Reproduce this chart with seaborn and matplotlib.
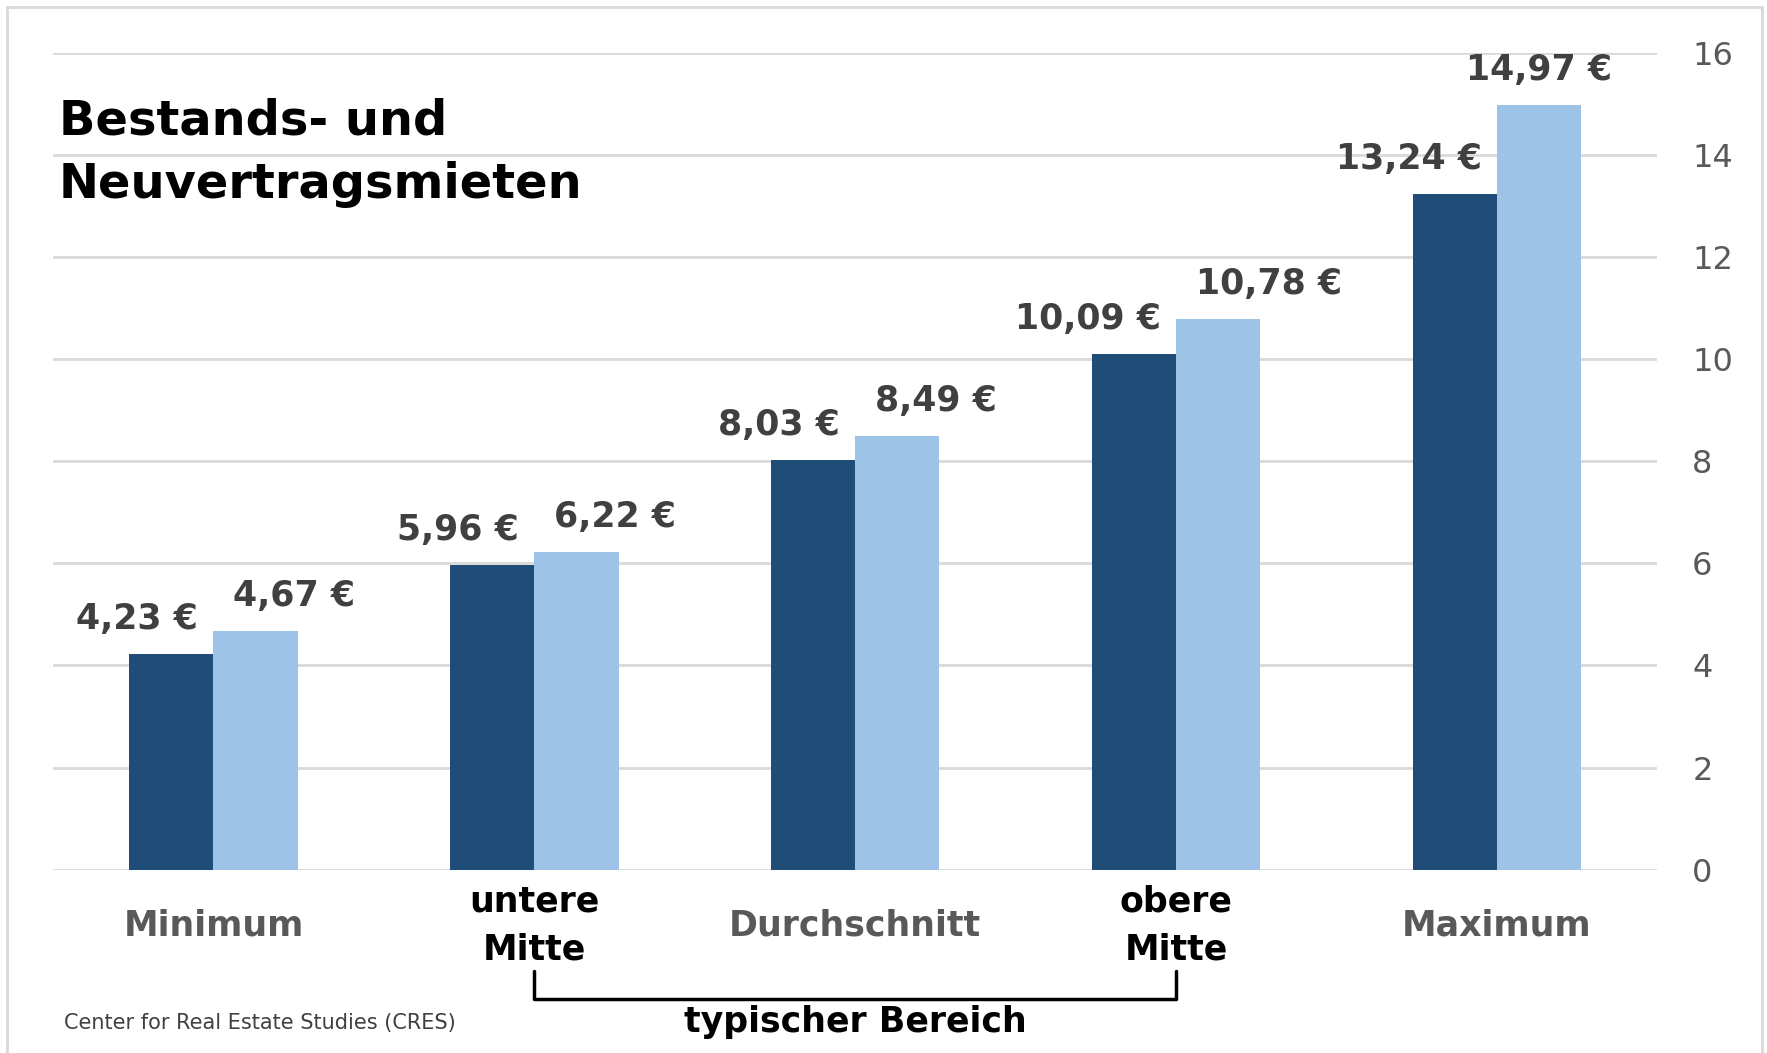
import matplotlib.pyplot as plt
import matplotlib.patches as mpatches
import seaborn as sns
import pandas as pd


# DATA
categories = ["Minimum", "untere\nMitte", "Durchschnitt", "obere\nMitte", "Maximum"]
series_names = ["Bestandsmieten", "Neuvertragsmieten"]
bestand = [4.23, 5.96, 8.03, 10.09, 13.24]
neuvertrag = [4.67, 6.22, 8.49, 10.78, 14.97]
y_ticks = [0, 2, 4, 6, 8, 10, 12, 14, 16]

title = "Bestands- und\nNeuvertragsmieten"
bracket_label = "typischer Bereich"
source = "Center for Real Estate Studies (CRES)"

df = pd.DataFrame({
    "Kategorie": categories * 2,
    "Art": [series_names[0]] * len(categories) + [series_names[1]] * len(categories),
    "Miete": bestand + neuvertrag,
})


# STYLE
sns.set_theme(style="white")
plt.rcParams["font.family"] = ["DejaVu Sans"]

DARK = "#1f4d78"
LIGHT = "#9dc3e6"
GRID = "#d9d9d9"
GREY_TXT = "#595959"
VAL_TXT = "#404040"


# FIGURE
fig = plt.figure(figsize=(17.67, 10.53), dpi=100)
ax = fig.add_axes([0.030, 0.174, 0.908, 0.776])

sns.barplot(data=df, x="Kategorie", y="Miete", hue="Art", order=categories,
            palette=[DARK, LIGHT], saturation=1, width=0.525, gap=0,
            errorbar=None, legend=False, linewidth=0, ax=ax)

ax.set_xlim(-0.5, len(categories) - 0.5)
ax.set_ylim(y_ticks[0], y_ticks[-1])
ax.set_yticks(y_ticks)
ax.yaxis.tick_right()
ax.set_xlabel("")
ax.set_ylabel("")
for s in ax.spines.values():
    s.set_visible(False)
ax.grid(axis="y", color=GRID, linewidth=2)
ax.set_axisbelow(True)

ax.tick_params(axis="y", length=0, pad=25, labelsize=23, labelcolor=GREY_TXT)
ax.tick_params(axis="x", length=0, pad=40, labelsize=25)
label_colors = [GREY_TXT, "black", GREY_TXT, "black", GREY_TXT]
for lbl, c in zip(ax.get_xticklabels(), label_colors):
    lbl.set_color(c)
    lbl.set_fontweight("bold")
    lbl.set_va("center")
    lbl.set_linespacing(1.5)


# VALUE LABELS
top_val = max(neuvertrag)
for k, cont in enumerate(ax.containers):
    for bar in cont:
        h = bar.get_height()
        txt = f"{h:.2f} €".replace(".", ",")
        if k == 0:
            x, ha, dx = bar.get_x() + bar.get_width(), "right", -11
        elif h == top_val:
            x, ha, dx = bar.get_x() + bar.get_width() / 2, "center", 0
        else:
            x, ha, dx = bar.get_x(), "left", 14
        ax.annotate(txt, (x, h), xytext=(dx, 18), textcoords="offset points",
                    ha=ha, va="baseline", fontsize=25, fontweight="bold",
                    color=VAL_TXT)


# BRACKET
trans = ax.get_xaxis_transform()
ax.plot([1, 1, 3, 3], [-0.124, -0.158, -0.158, -0.124], color="black",
        linewidth=2.5, transform=trans, clip_on=False)
ax.text(2, -0.186, bracket_label, transform=trans, ha="center", va="center",
        fontsize=25, fontweight="bold", color="black")


# TITLE / SOURCE
fig.text(0.0334, 0.855, title, ha="left", va="center", fontsize=34.5,
         fontweight="bold", color="black", linespacing=1.45)
fig.text(0.036, 0.0285, source, ha="left", va="center", fontsize=15,
         color="#404040")

# outer frame
fig.patches.append(mpatches.Rectangle((0.004, -0.01), 0.993, 1.003,
                                      transform=fig.transFigure, fill=False,
                                      edgecolor=GRID, linewidth=2))

fig.savefig("out.png", dpi=100)
plt.close()
